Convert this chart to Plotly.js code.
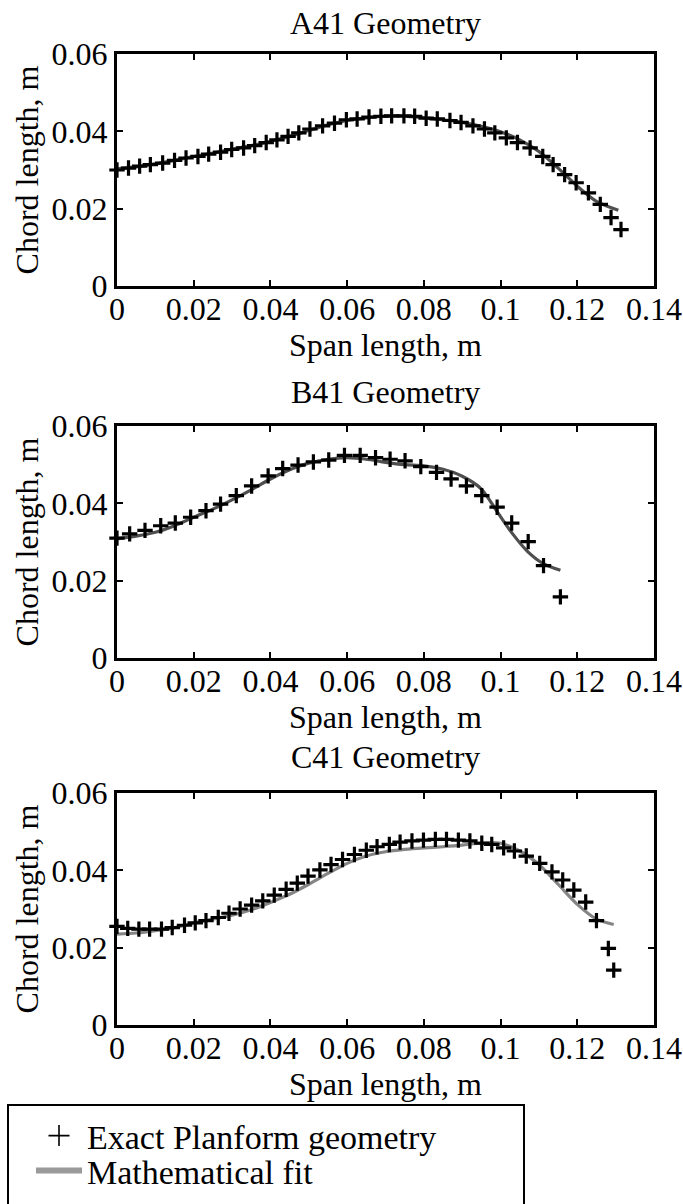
<!DOCTYPE html>
<html>
<head>
<meta charset="utf-8">
<script src="https://cdn.plot.ly/plotly-3.0.1.min.js"></script>
<style>
  html, body { margin: 0; padding: 0; background: #ffffff; }
  #chart { width: 683px; height: 1204px; }
</style>
</head>
<body>
<div id="chart"></div>
<script>
// ---------------- DATA ----------------
const panelTitles = ["A41 Geometry", "B41 Geometry", "C41 Geometry"];
const xTitle = "Span length, m";
const yTitle = "Chord length, m";
const legendNames = ["Exact Planform geometry", "Mathematical fit"];

// A41 – exact planform points
const spanA = [0, 0.0030, 0.0059, 0.0087, 0.0119, 0.0150, 0.0180, 0.0211, 0.0239, 0.0270, 0.0299,
  0.0330, 0.0359, 0.0389, 0.0417, 0.0446, 0.0474, 0.0503, 0.0536, 0.0567, 0.0598,
  0.0626, 0.0657, 0.0688, 0.0716, 0.0748, 0.0776, 0.0806, 0.0835, 0.0868, 0.0897,
  0.0928, 0.0958, 0.0985, 0.1015, 0.1044, 0.1077, 0.1110, 0.1137, 0.1167, 0.1197,
  0.1229, 0.1260, 0.1288, 0.1314];
const chordA = [0.0300, 0.0305, 0.0310, 0.0314, 0.0318, 0.0325, 0.0331, 0.0335, 0.0341, 0.0346, 0.0353,
  0.0357, 0.0363, 0.0371, 0.0378, 0.0387, 0.0396, 0.0406, 0.0414, 0.0421, 0.0430,
  0.0432, 0.0437, 0.0439, 0.0440, 0.0440, 0.0439, 0.0434, 0.0432, 0.0428, 0.0423,
  0.0414, 0.0406, 0.0396, 0.0383, 0.0371, 0.0357, 0.0335, 0.0314, 0.0288, 0.0267,
  0.0241, 0.0211, 0.0177, 0.0146];
// A41 – mathematical fit
const fitSpanA = [0, 0.005, 0.010, 0.015, 0.020, 0.025, 0.030, 0.035, 0.040, 0.045, 0.050, 0.055,
  0.060, 0.065, 0.070, 0.075, 0.080, 0.085, 0.090, 0.095, 0.100, 0.105, 0.110, 0.115,
  0.120, 0.125, 0.1307];
const fitChordA = [0.0303, 0.0308, 0.0316, 0.0325, 0.0335, 0.0344, 0.0354, 0.0363, 0.0374, 0.0387,
  0.0402, 0.0417, 0.0428, 0.0435, 0.0439, 0.0439, 0.0435, 0.0430, 0.0423, 0.0413,
  0.0399, 0.0378, 0.0348, 0.0305, 0.0258, 0.0219, 0.0196];

// B41 – exact planform points
const spanB = [0, 0.0033, 0.0073, 0.0114, 0.0152, 0.0192, 0.0232, 0.0270, 0.0311, 0.0351,
  0.0394, 0.0432, 0.0472, 0.0512, 0.0552, 0.0593, 0.0634, 0.0674, 0.0712, 0.0751,
  0.0792, 0.0833, 0.0871, 0.0911, 0.0951, 0.0991, 0.1029, 0.1072, 0.1112, 0.1156];
const chordB = [0.0310, 0.0321, 0.0330, 0.0342, 0.0349, 0.0364, 0.0381, 0.0398, 0.0420, 0.0445,
  0.0471, 0.0490, 0.0499, 0.0507, 0.0512, 0.0524, 0.0524, 0.0518, 0.0514, 0.0510,
  0.0495, 0.0480, 0.0463, 0.0445, 0.0420, 0.0390, 0.0349, 0.0301, 0.0239, 0.0158];
// B41 – mathematical fit
const fitSpanB = [0, 0.005, 0.010, 0.015, 0.020, 0.025, 0.030, 0.035, 0.040, 0.045, 0.050, 0.055,
  0.060, 0.065, 0.070, 0.075, 0.080, 0.085, 0.090, 0.095, 0.099, 0.103, 0.107, 0.111, 0.1156];
const fitChordB = [0.0308, 0.0315, 0.0325, 0.0342, 0.0364, 0.0385, 0.0409, 0.0435, 0.0463, 0.0487,
  0.0504, 0.0514, 0.0518, 0.0514, 0.0506, 0.0500, 0.0497, 0.0488, 0.0470, 0.0437,
  0.0380, 0.0323, 0.0276, 0.0245, 0.0227];

// C41 – exact planform points
const spanC = [0, 0.0028, 0.0057, 0.0085, 0.0116, 0.0144, 0.0176, 0.0204, 0.0232, 0.0264, 0.0292,
  0.0321, 0.0351, 0.0380, 0.0410, 0.0441, 0.0470, 0.0498, 0.0529, 0.0558, 0.0588,
  0.0619, 0.0650, 0.0678, 0.0710, 0.0738, 0.0769, 0.0799, 0.0830, 0.0859, 0.0890,
  0.0920, 0.0951, 0.0977, 0.1008, 0.1036, 0.1067, 0.1102, 0.1134, 0.1162, 0.1191,
  0.1222, 0.1250, 0.1281, 0.1295];
const chordC = [0.0255, 0.0250, 0.0248, 0.0248, 0.0248, 0.0252, 0.0258, 0.0264, 0.0270, 0.0278, 0.0289,
  0.0300, 0.0310, 0.0321, 0.0336, 0.0351, 0.0367, 0.0385, 0.0401, 0.0415, 0.0428,
  0.0441, 0.0452, 0.0461, 0.0467, 0.0473, 0.0476, 0.0478, 0.0480, 0.0480, 0.0478,
  0.0476, 0.0470, 0.0467, 0.0458, 0.0450, 0.0437, 0.0418, 0.0396, 0.0375, 0.0349,
  0.0318, 0.0270, 0.0198, 0.0142];
// C41 – mathematical fit
const fitSpanC = [0, 0.005, 0.010, 0.015, 0.020, 0.025, 0.030, 0.035, 0.040, 0.045, 0.050, 0.055,
  0.060, 0.065, 0.070, 0.075, 0.080, 0.085, 0.090, 0.095, 0.100, 0.105, 0.110, 0.115,
  0.120, 0.125, 0.1295];
const fitChordC = [0.0235, 0.0238, 0.0244, 0.0252, 0.0264, 0.0274, 0.0284, 0.0298, 0.0317, 0.0338,
  0.0364, 0.0392, 0.0418, 0.0437, 0.0448, 0.0454, 0.0458, 0.0461, 0.0465, 0.0471,
  0.0470, 0.0450, 0.0415, 0.0364, 0.0312, 0.0274, 0.0260];

const xTickVals = [0, 0.02, 0.04, 0.06, 0.08, 0.1, 0.12, 0.14];
const xTickText = ["0", "0.02", "0.04", "0.06", "0.08", "0.1", "0.12", "0.14"];
const yTickVals = [0, 0.02, 0.04, 0.06];
const yTickText = ["0", "0.02", "0.04", "0.06"];

// ---------------- STYLE / LAYOUT ----------------
const FONT = 'Liberation Serif, Times New Roman, Times, serif';
const W = 683, H = 1204;
const M = {l: 117, r: 29, t: 0, b: 0};
const plotW = W - M.l - M.r;
// pixel rows of each panel box (top, bottom)
const rows = [[54, 286], [426, 658], [793, 1025]];
const titleY = [23, 392, 757];
const fitColors = ["#4f4f4f", "#4f4f4f", "#858585"];

const panels = [
  {xs: spanA, ys: chordA, fx: fitSpanA, fy: fitChordA},
  {xs: spanB, ys: chordB, fx: fitSpanB, fy: fitChordB},
  {xs: spanC, ys: chordC, fx: fitSpanC, fy: fitChordC}
];

const traces = [];
panels.forEach((p, i) => {
  const xa = i === 0 ? 'x' : 'x' + (i + 1);
  const ya = i === 0 ? 'y' : 'y' + (i + 1);
  traces.push({
    x: p.fx, y: p.fy, xaxis: xa, yaxis: ya, type: 'scatter', mode: 'lines',
    line: {color: fitColors[i], width: 3.2, shape: 'spline', smoothing: 0.8},
    showlegend: false, hoverinfo: 'skip'
  });
  traces.push({
    x: p.xs, y: p.ys, xaxis: xa, yaxis: ya, type: 'scatter', mode: 'markers',
    marker: {symbol: 'cross-thin', size: 11, color: '#000', line: {color: '#000', width: 3.2}},
    showlegend: false, hoverinfo: 'skip', cliponaxis: false
  });
});
// legend entries (one legend per row so rows can sit as close as in the original)
traces.push({
  x: [null], y: [null], xaxis: 'x3', yaxis: 'y3', type: 'scatter', mode: 'markers',
  name: legendNames[0], legend: 'legend',
  marker: {symbol: 'cross-thin', size: 15, color: '#000', line: {color: '#000', width: 1.6}}
});
traces.push({
  x: [null], y: [null], xaxis: 'x3', yaxis: 'y3', type: 'scatter', mode: 'lines',
  name: legendNames[1], legend: 'legend2',
  line: {color: '#9a9a9a', width: 6}
});

function xAxis(anchor) {
  return {
    anchor: anchor, domain: [0, 1], range: [0, 0.14],
    tickvals: xTickVals, ticktext: xTickText,
    showgrid: false, zeroline: false, showline: true, mirror: 'ticks',
    linecolor: '#000', linewidth: 3, ticks: 'inside', ticklen: 6, tickwidth: 2, tickcolor: '#000',
    tickfont: {family: FONT, size: 32, color: '#000'}, ticklabelstandoff: -7,
    title: {text: xTitle, font: {family: FONT, size: 32, color: '#000'}, standoff: 0},
    automargin: false, fixedrange: true
  };
}
function yAxis(anchor, r) {
  return {
    anchor: anchor, domain: [1 - r[1] / H, 1 - r[0] / H], range: [0, 0.06],
    tickvals: yTickVals, ticktext: yTickText,
    showgrid: false, zeroline: false, showline: true, mirror: 'ticks',
    linecolor: '#000', linewidth: 3, ticks: 'inside', ticklen: 6, tickwidth: 2, tickcolor: '#000',
    tickfont: {family: FONT, size: 32, color: '#000'},
    title: {text: yTitle, font: {family: FONT, size: 32, color: '#000'}, standoff: 4},
    automargin: false, fixedrange: true
  };
}

const legendBase = {
  x: (31 - M.l) / plotW, xanchor: 'left', yanchor: 'middle',
  bgcolor: 'rgba(0,0,0,0)', borderwidth: 0,
  font: {family: FONT, size: 34, color: '#000'},
  itemwidth: 46
};

const layout = {
  width: W, height: H,
  margin: M,
  paper_bgcolor: '#fff', plot_bgcolor: '#fff',
  font: {family: FONT, color: '#000'},
  xaxis: xAxis('y'), yaxis: yAxis('x', rows[0]),
  xaxis2: xAxis('y2'), yaxis2: yAxis('x2', rows[1]),
  xaxis3: xAxis('y3'), yaxis3: yAxis('x3', rows[2]),
  annotations: panelTitles.map((t, i) => ({
    text: t, xref: 'paper', yref: 'paper', x: 0.5, y: 1 - titleY[i] / H,
    xanchor: 'center', yanchor: 'middle', showarrow: false,
    font: {family: FONT, size: 32, color: '#000'}
  })),
  shapes: [{
    type: 'rect', xref: 'paper', yref: 'paper',
    x0: (8 - M.l) / plotW, x1: (524 - M.l) / plotW,
    y0: -0.02, y1: 1 - 1105 / H,
    line: {color: '#000', width: 2}, fillcolor: 'rgba(0,0,0,0)'
  }],
  showlegend: true,
  legend: Object.assign({}, legendBase, {y: 1 - 1136 / H}),
  legend2: Object.assign({}, legendBase, {y: 1 - 1171 / H})
};

Plotly.newPlot('chart', traces, layout, {displayModeBar: false, staticPlot: true});
</script>
</body>
</html>
